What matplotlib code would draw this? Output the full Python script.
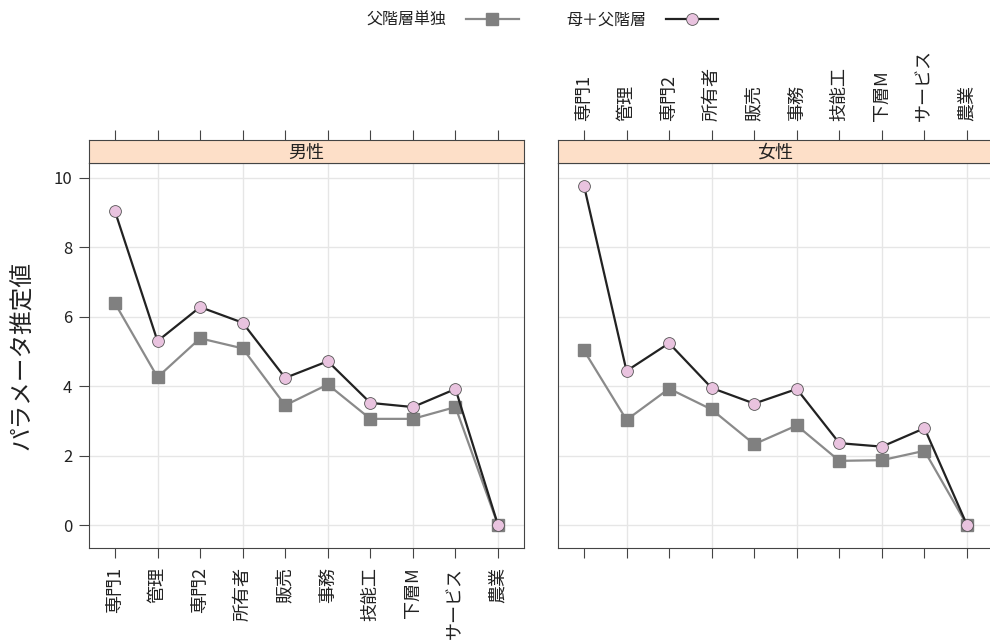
import matplotlib
matplotlib.use("Agg")
import matplotlib.pyplot as plt
from matplotlib.lines import Line2D

plt.rcParams['font.family'] = ['Noto Sans CJK JP', 'DejaVu Sans']

# 職業カテゴリと推定値
categories = ['専門1', '管理', '専門2', '所有者', '販売', '事務', '技能工', '下層M', 'サービス', '農業']
panels = ['男性', '女性']
father_only = {
    '男性': [6.39, 4.26, 5.38, 5.09, 3.45, 4.05, 3.06, 3.06, 3.40, 0.0],
    '女性': [5.03, 3.03, 3.93, 3.33, 2.33, 2.87, 1.85, 1.87, 2.14, 0.0],
}
mother_father = {
    '男性': [9.04, 5.30, 6.28, 5.83, 4.24, 4.72, 3.52, 3.40, 3.92, 0.0],
    '女性': [9.78, 4.44, 5.24, 3.95, 3.50, 3.92, 2.36, 2.26, 2.79, 0.0],
}
series_labels = ['父階層単独', '母＋父階層']
yticks = [0, 2, 4, 6, 8, 10]

W, H = 990, 644
fig = plt.figure(figsize=(W / 100, H / 100), dpi=100)

x = list(range(1, len(categories) + 1))
edge = '#444444'
gray = '#8a8a8a'
pink = '#e9c3df'
txt = '#222222'

lefts = [89, 558]
for i, name in enumerate(panels):
    L = lefts[i] / W
    ax = fig.add_axes([L, 96 / H, 435 / W, 385 / H])
    st = fig.add_axes([L, 481 / H, 435 / W, 23 / H])

    ax.set_xlim(0.39, 10.61)
    ax.set_ylim(-0.66, 10.43)
    for g in x[1::2]:
        ax.axvline(g, color='#e6e6e6', lw=1, zorder=0)
    for g in yticks:
        ax.axhline(g, color='#e6e6e6', lw=1, zorder=0)

    ax.plot(x, father_only[name], color=gray, lw=1.6, marker='s', ms=8,
            mfc='#808080', mec='#808080', zorder=2)
    ax.plot(x, mother_father[name], color='#222222', lw=1.6, marker='o', ms=8.5,
            mfc=pink, mec='#555555', mew=0.6, zorder=3)

    for s in ax.spines.values():
        s.set_color(edge)
    ax.set_xticks(x)
    ax.tick_params(axis='x', direction='out', length=7, color=edge, pad=7,
                   labelsize=13, labelcolor=txt)
    if i == 0:
        ax.set_xticklabels(categories, rotation=90, va='top')
        ax.set_yticks(yticks)
        ax.tick_params(axis='y', direction='out', length=7, color=edge, pad=5,
                       labelsize=12, labelcolor=txt)
        ax.set_ylabel('パラメータ推定値', fontsize=17, labelpad=14, color=txt)
    else:
        ax.set_xticklabels([])
        ax.set_yticks([])

    # ストリップ
    st.set_facecolor('#fddfc8')
    st.set_xlim(ax.get_xlim())
    st.set_ylim(0, 1)
    st.set_yticks([])
    for s in st.spines.values():
        s.set_color(edge)
    st.xaxis.tick_top()
    st.set_xticks(x)
    st.tick_params(axis='x', direction='out', length=7, color=edge, pad=7,
                   labelsize=13, labelcolor=txt)
    if i == 1:
        st.set_xticklabels(categories, rotation=90, va='bottom')
    else:
        st.set_xticklabels([])
    st.text(0.5, 0.45, name, transform=st.transAxes, ha='center', va='center',
            fontsize=13, color=txt)

handles = [
    Line2D([], [], color=gray, lw=1.6, marker='s', ms=8, mfc='#808080', mec='#808080'),
    Line2D([], [], color='#222222', lw=1.6, marker='o', ms=8.5, mfc=pink, mec='#555555', mew=0.6),
]
fig.legend(handles, series_labels, loc='center', bbox_to_anchor=(0.548, 1 - 20 / H), ncol=2,
           frameon=False, markerfirst=False, fontsize=11.5, handlelength=3.3,
           columnspacing=3.0, handletextpad=1.2, labelcolor=txt)

fig.savefig('out.png', dpi=100)
